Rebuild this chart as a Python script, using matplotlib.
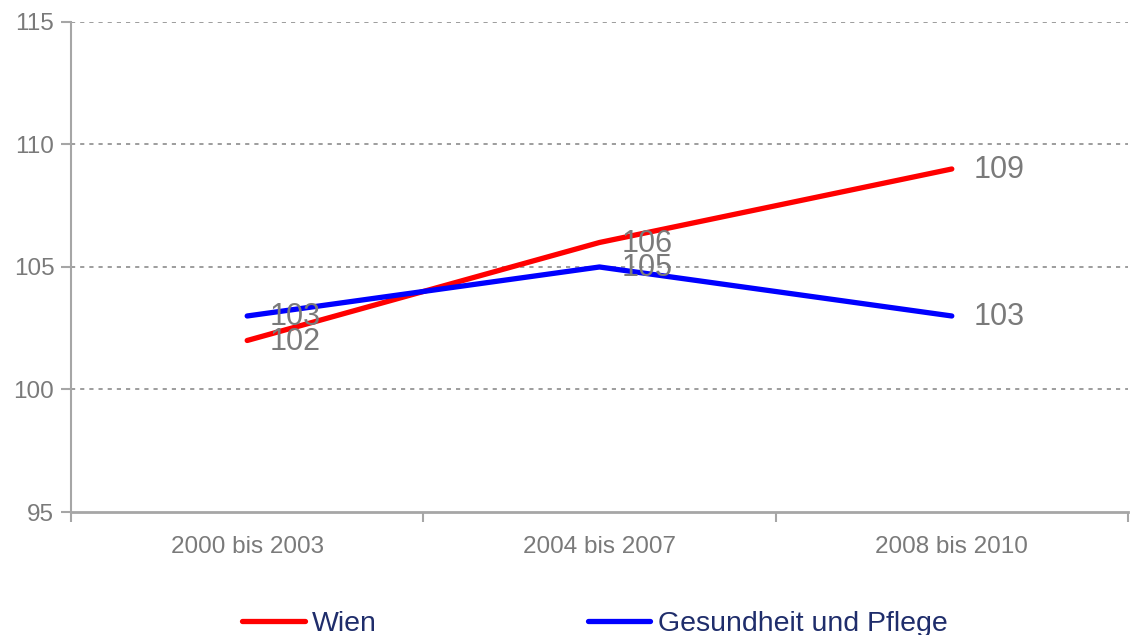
import numpy as np
import matplotlib.pyplot as plt

plt.rcParams['font.family'] = ['Liberation Sans', 'DejaVu Sans']

categories = ['2000 bis 2003', '2004 bis 2007', '2008 bis 2010']
wien = [102, 106, 109]
gesundheit = [103, 105, 103]
yticks = [95, 100, 105, 110, 115]

grey = '#7a7a7a'
spine = '#a6a6a6'

fig = plt.figure(figsize=(11.31, 6.35), dpi=100)
ax = fig.add_axes([0.0628, 0.1937, 0.9345, 0.7717])

x = np.arange(len(categories)) + 0.5
l1, = ax.plot(x, wien, color='#ff0000', lw=3.8, solid_capstyle='round', label='Wien')
l2, = ax.plot(x, gesundheit, color='#0000ff', lw=3.8, solid_capstyle='round',
              label='Gesundheit und Pflege')

# data labels to the right of each point (they overlap in the original too)
for series in (wien, gesundheit):
    for xi, v in zip(x, series):
        ax.annotate(str(v), (xi, v), xytext=(16, -1), textcoords='offset points',
                    va='center', ha='left', fontsize=22, color=grey)

ax.set_xlim(0, len(categories))
ax.set_ylim(95, 115)
ax.set_yticks(yticks)
ax.set_yticklabels([str(t) for t in yticks], fontsize=17.5, color=grey)
ax.set_xticks(np.arange(len(categories) + 1))
ax.set_xticklabels([])
ax.set_xticks(x, minor=True)
ax.set_xticklabels(categories, minor=True, fontsize=17.5, color=grey)
ax.tick_params(axis='x', which='minor', length=0, pad=17)
ax.tick_params(axis='x', which='major', length=7, color=spine, width=1.5)
ax.tick_params(axis='y', length=7, color=spine, width=1.5, pad=5)

for t in yticks[1:]:
    ax.axhline(t, color='#8c8c8c', lw=1.2, ls=(0, (2.5, 3)), zorder=0)

ax.spines['top'].set_visible(False)
ax.spines['right'].set_visible(False)
ax.spines['left'].set_color(spine)
ax.spines['left'].set_linewidth(1.5)
ax.spines['bottom'].set_color(spine)
ax.spines['bottom'].set_linewidth(2)

leg = fig.legend(handles=[l1, l2], loc='lower center', bbox_to_anchor=(0.526, -0.043),
                 ncol=2, frameon=False, fontsize=20.5, handlelength=2.2,
                 handletextpad=0.27, columnspacing=7.4)
for t in leg.get_texts():
    t.set_color('#1f2d6b')

fig.savefig('out.png', dpi=100)
